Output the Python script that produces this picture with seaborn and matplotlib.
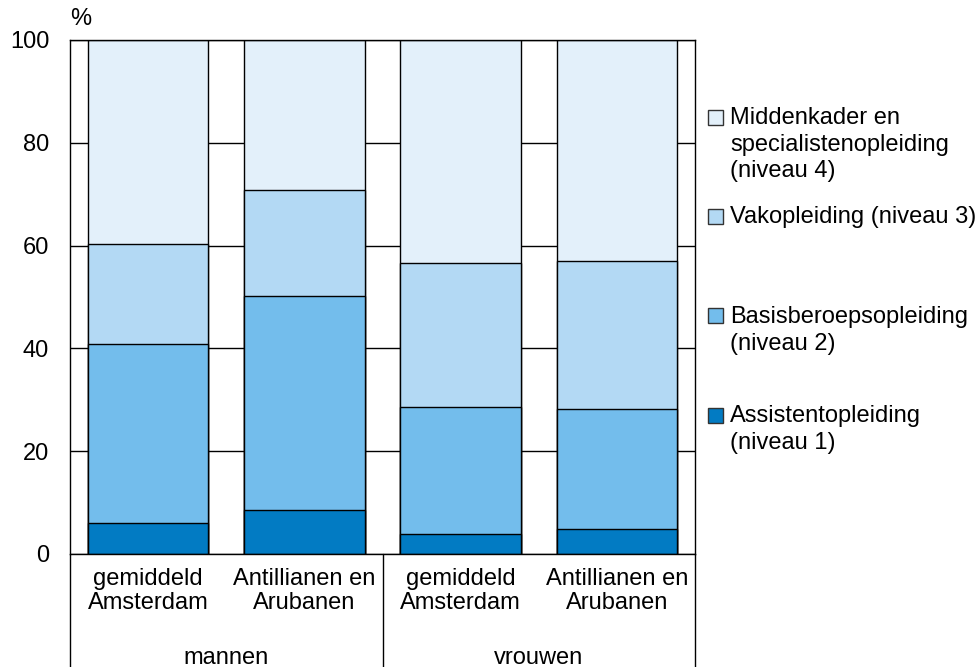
import matplotlib
matplotlib.use("Agg")
import matplotlib.pyplot as plt
import seaborn as sns
import numpy as np
from matplotlib.patches import Rectangle

# data (aandeel in %, per opleidingsniveau)
groepen = ["mannen", "vrouwen"]
categorieen = ["gemiddeld\nAmsterdam", "Antillianen en\nArubanen",
               "gemiddeld\nAmsterdam", "Antillianen en\nArubanen"]
sleutels = ["m_gem", "m_ant", "v_gem", "v_ant"]

niveau1 = [6.1, 8.6, 3.8, 4.8]
niveau2 = [34.8, 41.5, 24.8, 23.5]
niveau3 = [19.5, 20.7, 28.1, 28.7]
niveau4 = [39.6, 29.2, 43.3, 43.0]

labels = ["Assistentopleiding\n(niveau 1)",
          "Basisberoepsopleiding\n(niveau 2)",
          "Vakopleiding (niveau 3)",
          "Middenkader en\nspecialistenopleiding\n(niveau 4)"]
kleuren = ["#027BC3", "#73BDEC", "#B3D9F4", "#E3F0FA"]

sns.set_style("white")
plt.rcParams["font.family"] = ["Liberation Sans", "DejaVu Sans"]
plt.rcParams["text.color"] = "black"
plt.rcParams["xtick.color"] = "black"
plt.rcParams["ytick.color"] = "black"
FS = 17

fig = plt.figure(figsize=(9.76, 6.67), dpi=100)
ax = fig.add_axes([70 / 976, 1 - 554 / 667, 625 / 976, 514 / 667])

series = [niveau1, niveau2, niveau3, niveau4]
cum = np.cumsum(np.array(series), axis=0)

# tallest stack first, smaller ones drawn over it
for i in range(len(series) - 1, -1, -1):
    sns.barplot(x=sleutels, y=cum[i], order=sleutels, color=kleuren[i],
                saturation=1, width=0.77, edgecolor="black", linewidth=1,
                errorbar=None, ax=ax)

ax.set_ylim(0, 100)
ax.set_xlim(-0.5, 3.5)
ax.set_yticks([0, 20, 40, 60, 80, 100])
ax.yaxis.grid(True, color="black", linewidth=1)
ax.set_axisbelow(True)
ax.set_xlabel("")
ax.set_ylabel("")
for s in ax.spines.values():
    s.set_color("black")
    s.set_linewidth(1)

ax.set_xticks(range(len(sleutels)))
ax.set_xticklabels(categorieen, fontsize=FS, linespacing=1.12)
ax.tick_params(axis="x", length=0, pad=10)
ax.tick_params(axis="y", length=0, pad=15, labelsize=FS)

ax.text(0.0, 1.02, "%", fontsize=FS, ha="left", va="bottom",
        transform=ax.transAxes)

# category box below the axis
for xv in [-0.5, 1.5, 3.5]:
    ax.plot([xv, xv], [0, -30], color="black", linewidth=1, clip_on=False)
for j, g in enumerate(groepen):
    ax.text(0.5 + 2 * j, -20.2, g, fontsize=FS, ha="center", va="center")

# legend, top to bottom
leg_y = [117, 216, 316, 415]
for yy, k in zip(leg_y, [3, 2, 1, 0]):
    yf = 1 - yy / 667
    fig.add_artist(Rectangle((708 / 976, yf - 7.5 / 667), 15 / 976, 15 / 667,
                             facecolor=kleuren[k], edgecolor="#333333",
                             linewidth=1, transform=fig.transFigure))
    fig.text(730 / 976, yf + 10 / 667, labels[k], fontsize=FS, ha="left",
             va="top", linespacing=1.27)

fig.savefig("out.png", dpi=100)
